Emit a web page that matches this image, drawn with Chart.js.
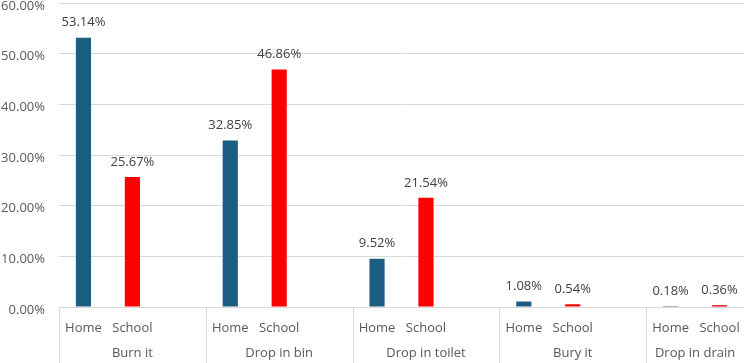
<!DOCTYPE html>
<html>
<head>
<meta charset="utf-8">
<script src="https://cdn.jsdelivr.net/npm/chart.js@4.4.0/dist/chart.umd.min.js"></script>
<style>
  html, body { margin: 0; padding: 0; background: #fff; overflow: hidden; }
</style>
</head>
<body>
<canvas id="myChart" width="744" height="363"></canvas>
<script>
// categories
const groups = ['Burn it', 'Drop in bin', 'Drop in toilet', 'Bury it', 'Drop in drain'];
const places = ['Home', 'School'];
// percentages
const homeValues = [53.14, 32.85, 9.52, 1.08, 0.18];
const schoolValues = [25.67, 46.86, 21.54, 0.54, 0.36];
// y axis ticks
const yTicks = [0, 10, 20, 30, 40, 50, 60];

const blue = '#1a5e81';
const red = '#ff0000';
const gridColor = '#d9d9d9';
const fontFamily = "'Open Sans', 'Liberation Sans', Arial, sans-serif";

// every group has Home, School and an empty slot, except the last one
let labels = [];
let homeData = [];
let schoolData = [];
let groupStart = [];
for (let g in groups) {
    groupStart.push(labels.length);
    labels.push(places[0]);
    homeData.push(homeValues[g]);
    schoolData.push(null);
    labels.push(places[1]);
    homeData.push(null);
    schoolData.push(schoolValues[g]);
    if (g < groups.length - 1) {
        labels.push('');
        homeData.push(null);
        schoolData.push(null);
    }
}

Chart.defaults.font.family = fontFamily;
Chart.defaults.font.size = 13;

// value labels above the bars
const valueLabels = {
    id: 'valueLabels',
    afterDatasetsDraw(chart) {
        let ctx = chart.ctx;
        ctx.save();
        ctx.font = '13px ' + fontFamily;
        ctx.fillStyle = '#404040';
        ctx.textAlign = 'center';
        ctx.textBaseline = 'middle';
        chart.data.datasets.forEach(function (ds, i) {
            let meta = chart.getDatasetMeta(i);
            meta.data.forEach(function (bar, j) {
                let v = ds.data[j];
                if (v === null) return;
                ctx.fillText(v.toFixed(2) + '%', bar.x, bar.y - 15);
            });
        });
        ctx.restore();
    }
};

// group separators and group names under the Home/School ticks
const groupAxis = {
    id: 'groupAxis',
    afterDraw(chart) {
        let ctx = chart.ctx;
        let x = chart.scales.x;
        let area = chart.chartArea;
        let slot = x.width / labels.length;
        ctx.save();
        ctx.strokeStyle = gridColor;
        ctx.lineWidth = 1;
        ctx.font = '13px ' + fontFamily;
        ctx.fillStyle = '#595959';
        ctx.textAlign = 'center';
        ctx.textBaseline = 'middle';
        for (let g = 0; g < groups.length; g++) {
            let left = x.getPixelForValue(groupStart[g]) - slot / 2;
            let right = g < groups.length - 1 ? x.getPixelForValue(groupStart[g + 1]) - slot / 2 : area.right;
            let lx = Math.round(left) + 0.5;
            ctx.beginPath();
            ctx.moveTo(lx, area.bottom);
            ctx.lineTo(lx, chart.height);
            ctx.stroke();
            ctx.fillText(groups[g], (left + right) / 2, 353);
        }
        ctx.restore();
    }
};

let myChart = new Chart(document.getElementById('myChart'), {
    type: 'bar',
    data: {
        labels: labels,
        datasets: [
            { label: 'Home', data: homeData, backgroundColor: blue },
            { label: 'School', data: schoolData, backgroundColor: red }
        ]
    },
    options: {
        responsive: false,
        animation: false,
        grouped: false,
        barPercentage: 0.31,
        categoryPercentage: 1,
        layout: { padding: 0 },
        plugins: {
            legend: { display: false },
            tooltip: { enabled: false }
        },
        scales: {
            x: {
                grid: { display: false, drawTicks: false },
                border: { display: true, color: gridColor },
                ticks: { color: '#595959', padding: 13, maxRotation: 0, autoSkip: false },
                afterFit: function (scale) {
                    scale.height = 56;
                    scale.paddingLeft = 0;
                    scale.paddingRight = 0;
                }
            },
            y: {
                min: 0,
                max: 60,
                afterBuildTicks: function (scale) {
                    scale.ticks = yTicks.map(function (v) { return { value: v }; });
                },
                grid: { color: gridColor, drawTicks: false },
                border: { display: false },
                ticks: {
                    color: '#595959',
                    padding: 14,
                    labelOffset: 3,
                    callback: function (v) { return v.toFixed(2) + '%'; }
                },
                afterFit: function (scale) {
                    scale.width = 59;
                    scale.paddingTop = 3;
                    scale.paddingBottom = 0;
                }
            }
        }
    },
    plugins: [valueLabels, groupAxis]
});
</script>
</body>
</html>
